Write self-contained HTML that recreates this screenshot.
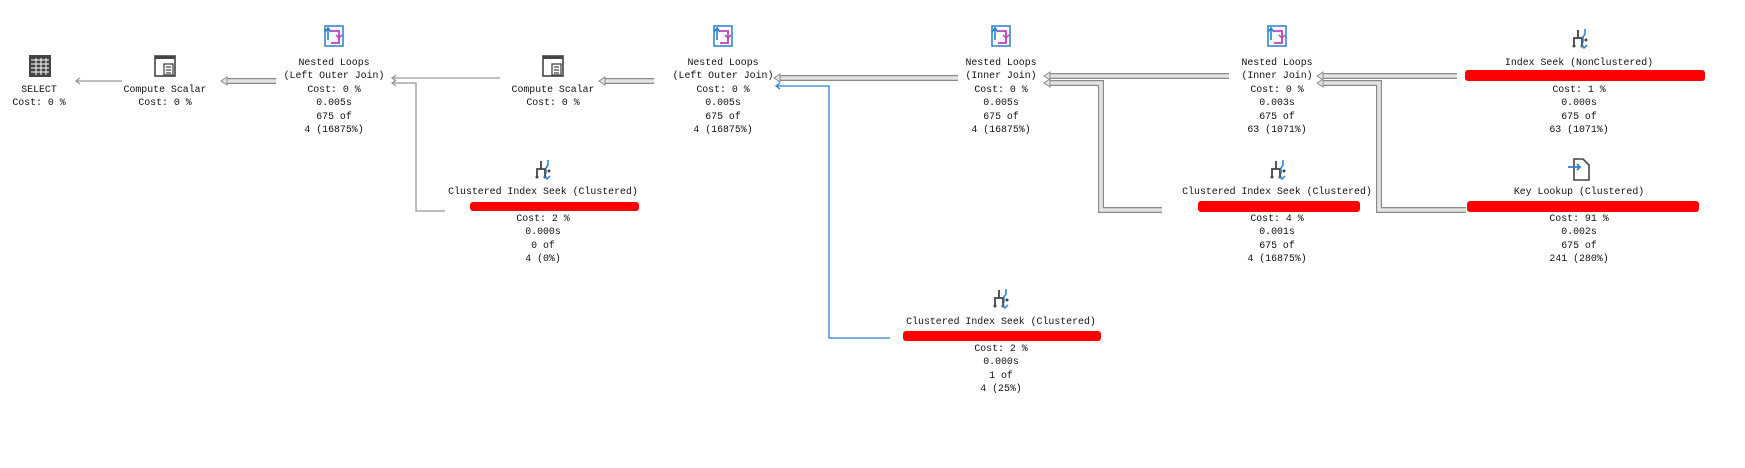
<!DOCTYPE html>
<html><head><meta charset="utf-8">
<style>
body{margin:0;width:1745px;height:468px;background:#fff;position:relative;overflow:hidden;font-family:"Liberation Mono",monospace;font-size:9.9px;color:#111}
.t{position:absolute;width:300px;text-align:center;line-height:13.4px;white-space:pre}
.r{position:absolute;background:#f00;border-radius:3px}
svg{position:absolute;left:0;top:0}
</style></head><body>
<svg width="1745" height="468">
<defs>
<g id="nl"><rect x="4" y="2" width="18" height="20" fill="#fff" stroke="#2a7fc9" stroke-width="1.5"/><path d="M10 7h8v12h-8" fill="none" stroke="#c040c0" stroke-width="1.8"/><path d="M15 11l3 3 3-3" fill="none" stroke="#c040c0" stroke-width="1.5"/><path d="M4 8l3-4 3 4M7 4v12" fill="none" stroke="#2a7fc9" stroke-width="1.6"/></g>
<g id="seek"><path d="M4 20v-8h8v8M8 12v-8" fill="none" stroke="#444" stroke-width="1.8"/><circle cx="4" cy="20" r="1.5" fill="#444"/><circle cx="12" cy="20" r="1.5" fill="#444"/><path d="M15 3v5l-2 3v6" fill="none" stroke="#2a7fc9" stroke-width="1.5"/><path d="M11 19l3 3 3-3" fill="none" stroke="#2a7fc9" stroke-width="1.5"/><circle cx="16" cy="14" r="1.5" fill="#444"/></g>
<g id="cs"><rect x="2" y="2" width="20" height="20" fill="#fff" stroke="#444" stroke-width="1.6"/><rect x="2" y="2" width="20" height="3" fill="#444"/><rect x="11" y="10" width="9" height="11" fill="#fff" stroke="#444" stroke-width="1.3"/><path d="M13 13h5M13 16h5M13 19h5" stroke="#444" stroke-width="1.2"/></g>
</defs>
<!-- SELECT icon -->
<g transform="translate(29,55)"><rect x="0" y="0" width="22" height="22" fill="#444"/><path d="M2 5h18M2 9h18M2 13h18M2 17h18M7 3v17M12 3v17M17 3v17" stroke="#fff" stroke-width="1"/></g>
<use href="#cs" transform="translate(153,54)"/>
<use href="#cs" transform="translate(541,54)"/>
<use href="#nl" transform="translate(321,24)"/>
<use href="#nl" transform="translate(710,24)"/>
<use href="#nl" transform="translate(988,24)"/>
<use href="#nl" transform="translate(1264,24)"/>
<use href="#seek" transform="translate(1570,26)"/>
<use href="#seek" transform="translate(533,157)"/>
<use href="#seek" transform="translate(1268,157)"/>
<use href="#seek" transform="translate(991,286)"/>
<!-- key lookup icon -->
<g transform="translate(1568,157)"><path d="M6 2h9l6 6v15H6z" fill="#fff" stroke="#444" stroke-width="1.6"/><path d="M0 10h12M9 7l3 3-3 3" fill="none" stroke="#2a7fc9" stroke-width="1.8"/></g>
<!-- thin connectors -->
<g fill="none" stroke="#999" stroke-width="1.3">
<path d="M77 81H122"/><path d="M80 78l-4 3 4 3"/>
<path d="M392 78H500"/><path d="M396 75l-4 3 4 3"/>
<path d="M392 83H416V211H445"/><path d="M396 80l-4 3 4 3"/>
</g>
<g fill="none" stroke="#2a7fd0" stroke-width="1.3">
<path d="M776 86H829V338H890"/><path d="M780 83l-4 3 4 3"/>
</g>
<!-- thick connectors -->
<g fill="none" stroke-linejoin="miter">
<g stroke="#8a8a8a" stroke-width="6">
<path d="M226 81H276"/><path d="M604 81H654"/><path d="M779 78H958"/>
<path d="M1049 76H1229"/><path d="M1049 83H1101V210H1162"/>
<path d="M1322 76H1457"/><path d="M1322 83H1379V210H1466"/>
</g>
<g stroke="#e4e4e4" stroke-width="3.6">
<path d="M226 81H276"/><path d="M604 81H654"/><path d="M779 78H958"/>
<path d="M1049 76H1229"/><path d="M1049 83H1101V210H1162"/>
<path d="M1322 76H1457"/><path d="M1322 83H1379V210H1466"/>
</g>
</g>
<g fill="#e4e4e4" stroke="#8a8a8a" stroke-width="1">
<path d="M221 81l6-4v8z"/><path d="M599 81l6-4v8z"/><path d="M774 78l6-4v8z"/>
<path d="M1044 76l6-4v8z"/><path d="M1044 83l6-4v8z"/>
<path d="M1317 76l6-4v8z"/><path d="M1317 83l6-4v8z"/>
</g>
</svg>

<div class="t" style="left:-111px;top:83px">SELECT
Cost: 0 %</div>
<div class="t" style="left:15px;top:83px">Compute Scalar
Cost: 0 %</div>
<div class="t" style="left:403px;top:83px">Compute Scalar
Cost: 0 %</div>
<div class="t" style="left:184px;top:56px">Nested Loops
(Left Outer Join)
Cost: 0 %
0.005s
675 of
4 (16875%)</div>
<div class="t" style="left:573px;top:56px">Nested Loops
(Left Outer Join)
Cost: 0 %
0.005s
675 of
4 (16875%)</div>
<div class="t" style="left:851px;top:56px">Nested Loops
(Inner Join)
Cost: 0 %
0.005s
675 of
4 (16875%)</div>
<div class="t" style="left:1127px;top:56px">Nested Loops
(Inner Join)
Cost: 0 %
0.003s
675 of
63 (1071%)</div>
<div class="t" style="left:1429px;top:56px">Index Seek (NonClustered)

Cost: 1 %
0.000s
675 of
63 (1071%)</div>
<div class="r" style="left:1465px;top:70px;width:240px;height:11px"></div>

<div class="t" style="left:1429px;top:185px">Key Lookup (Clustered)

Cost: 91 %
0.002s
675 of
241 (280%)</div>
<div class="r" style="left:1467px;top:201px;width:232px;height:11px"></div>

<div class="t" style="left:393px;top:185px">Clustered Index Seek (Clustered)

Cost: 2 %
0.000s
0 of
4 (0%)</div>
<div class="r" style="left:470px;top:202px;width:169px;height:9px"></div>

<div class="t" style="left:1127px;top:185px">Clustered Index Seek (Clustered)

Cost: 4 %
0.001s
675 of
4 (16875%)</div>
<div class="r" style="left:1198px;top:201px;width:162px;height:11px"></div>

<div class="t" style="left:851px;top:315px">Clustered Index Seek (Clustered)

Cost: 2 %
0.000s
1 of
4 (25%)</div>
<div class="r" style="left:903px;top:331px;width:198px;height:10px"></div>
</body></html>
